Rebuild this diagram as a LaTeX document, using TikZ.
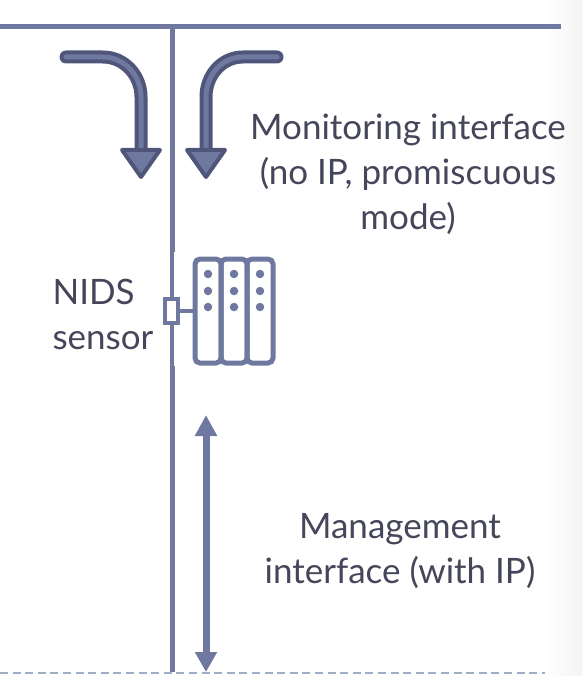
\documentclass[tikz,border=0pt]{standalone}
\usepackage{fontspec}
\setmainfont{Lato}
\usetikzlibrary{arrows.meta}
\usetikzlibrary{positioning}
\definecolor{linecol}{HTML}{6F789F}
\definecolor{darkcol}{HTML}{50557A}
\definecolor{textcol}{HTML}{45465A}
\definecolor{dashcol}{HTML}{9DAEC6}
\definecolor{edgecol}{HTML}{F4F4F4}
\tikzset{wire/.style = {draw=linecol, line width=5}}
\tikzset{curvearrow/.style = {draw=darkcol, double=linecol, line width=4, double distance=5}}
\tikzset{arrowhead/.style = {draw=darkcol, fill=linecol, line width=4, line join=round}}
\tikzset{rackbox/.style = {draw=linecol, line width=5, rounded corners=5, minimum width=26, minimum height=104, inner sep=0}}
\tikzset{dot/.style = {fill=linecol, circle, inner sep=0, minimum size=8.5}}
\tikzset{label/.style = {text=textcol, font=\fontsize{35}{45}\selectfont, align=center}}
\begin{document}
\begin{tikzpicture}[x=1pt, y=-1pt]
      \useasboundingbox (0, 0) rectangle (582, 676);
      \fill [left color=white, right color=edgecol] (544, 0) rectangle (582, 676);

      \coordinate (topl) at (0, 27);
      \coordinate (topr) at (561, 27);
      \coordinate (tap) at (172, 27);
      \coordinate (sensorup) at (172, 252);
      \coordinate (sensordown) at (172, 366);
      \coordinate (lan) at (172, 672);
      \coordinate (dashl) at (0, 673);
      \coordinate (dashr) at (545, 673);

      \draw [wire] (topl) -- (topr);
      \draw [wire] (tap) -- (sensorup);
      \draw [wire, line width=4] (sensorup) -- (sensordown);
      \draw [wire] (sensordown) -- (lan);
      \draw [draw=dashcol, line width=2, dash pattern=on 8 off 4.6] (dashl) -- (dashr);

      % monitoring arrows
      \coordinate (la) at (66, 57);
      \coordinate (lb) at (141, 150);
      \coordinate (ra) at (277, 57);
      \coordinate (rb) at (206, 150);
      \draw [curvearrow, line cap=round] (la) -- (103, 57) .. controls (124, 57) and (141, 75) .. (141, 97) -- (lb);
      \draw [curvearrow, line cap=round] (ra) -- (243, 57) .. controls (222, 57) and (206, 75) .. (206, 97) -- (rb);
      \draw [arrowhead] (122, 150) -- (160, 150) -- (141, 177) -- cycle;
      \draw [arrowhead] (187, 150) -- (225, 150) -- (206, 177) -- cycle;

      % sensor
      \node (rack1) at (208, 311) [rackbox] {};
      \node (rack2) at (234, 311) [rackbox] {};
      \node (rack3) at (260, 311) [rackbox] {};
      \foreach \x in {208, 234, 260}
        \foreach \y in {274, 291, 307}
          \node at (\x, \y) [dot] {};
      \node (port) at (171.5, 311) [draw=linecol, fill=white, line width=4, minimum width=13, minimum height=24, inner sep=0] {};
      \draw [wire, line width=4] (port) -- (rack1);

      % management
      \coordinate (mgmtup) at (206, 415);
      \coordinate (mgmtdown) at (206, 672);
      \draw [draw=linecol, line width=7, {Triangle[width=21, length=21]}-{Triangle[width=21, length=20]}] (mgmtup) -- (mgmtdown);

      \node (mon) at (408, 174.5) [label] {Monitoring interface\\(no IP, promiscuous\\mode)};
      \node (nids) at (49, 314) [label, align=left, anchor=west] {NIDS\\sensor};
      \node (mgt) at (400, 551) [label] {Management\\interface (with IP)};
\end{tikzpicture}
\end{document}
